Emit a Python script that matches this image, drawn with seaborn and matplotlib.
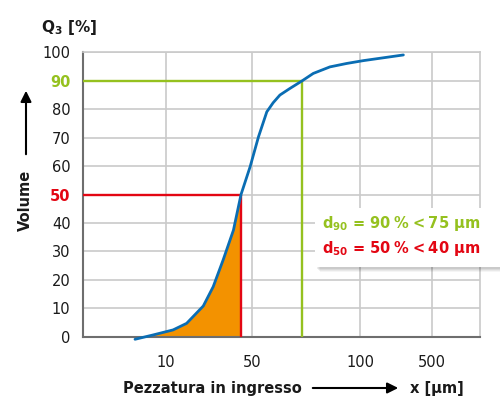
import numpy as np
import matplotlib
matplotlib.use("Agg")
import matplotlib.pyplot as plt
import seaborn as sns
from matplotlib.patches import Rectangle

# cumulative volume curve Q3
# x is the position along the (non-uniform) size axis, 0..100
grain_pos = [13.1, 17.6, 22.7, 26.1, 30.3, 32.8, 35.3, 37.9, 39.8,
             42.1, 44.2, 46.3, 47.9, 49.6, 52.1, 55.2, 58.0, 62.2, 66.4, 70.6, 80.7]
volume_pct = [-0.9, 0.6, 2.4, 4.7, 10.8, 17.6, 27.0, 37.5, 50.0,
              59.8, 70.3, 79.1, 82.3, 85.0, 87.3, 90.0, 92.6, 94.9, 96.1, 97.1, 99.1]

size_ticks = [20.9, 42.6, 69.8, 87.9]
size_labels = ["10", "50", "100", "500"]
volume_ticks = list(range(0, 101, 10))

d50_pos, d50_pct = 39.8, 50
d90_pos, d90_pct = 55.2, 90

BLUE = "#0a6db3"
ORANGE = "#f39200"
GREEN = "#95c11f"
RED = "#e30613"
GRID = "#cacaca"
TEXT = "#1a1a1a"

sns.set_theme(style="whitegrid")
plt.rcParams["font.family"] = ["DejaVu Sans"]
plt.rcParams["mathtext.fontset"] = "dejavusans"

fig = plt.figure(figsize=(5, 3.96), dpi=100)
ax = fig.add_axes([0.166, 0.1497, 0.794, 0.718])

# orange area under the curve up to d50
fill_x = np.array([x for x in grain_pos if x <= d50_pos])
fill_y = np.clip(np.array(volume_pct[:len(fill_x)]), 0, None)
ax.fill_between(fill_x, fill_y, 0, color=ORANGE, lw=0, zorder=2)

# d50 / d90 guide lines
ax.hlines(d50_pct, 0, d50_pos, color=RED, lw=1.7, zorder=3)
ax.vlines(d50_pos, 0, d50_pct, color=RED, lw=1.7, zorder=3)
ax.hlines(d90_pct, 0, d90_pos, color=GREEN, lw=1.7, zorder=3)
ax.vlines(d90_pos, 0, d90_pct, color=GREEN, lw=1.7, zorder=3)

sns.lineplot(x=grain_pos, y=volume_pct, sort=False, color=BLUE, lw=2, ax=ax, zorder=4)
ax.lines[-1].set_clip_on(False)
ax.lines[-1].set_solid_joinstyle("round")

ax.set_xlim(0, 100)
ax.set_ylim(0, 100)
ax.set_xticks(size_ticks, size_labels)
ax.set_yticks(volume_ticks)
ax.set_xlabel("")
ax.set_ylabel("")
ax.tick_params(axis="x", length=0, pad=13, labelsize=10.5, labelcolor=TEXT)
ax.tick_params(axis="y", length=0, pad=9, labelsize=10.5, labelcolor=TEXT)
for lbl in ax.get_yticklabels():
    if lbl.get_text() == "50":
        lbl.set_color(RED)
        lbl.set_fontweight("bold")
    elif lbl.get_text() == "90":
        lbl.set_color(GREEN)
        lbl.set_fontweight("bold")

ax.grid(True, color=GRID, lw=1.2)
for side in ["left", "bottom"]:
    ax.spines[side].set_color("#6e6e6e")
    ax.spines[side].set_linewidth(1.5)
for side in ["top", "right"]:
    ax.spines[side].set_color(GRID)
    ax.spines[side].set_linewidth(1.2)

# axis titles
fig.text(41 / 500, 1 - 32 / 396, r"$\mathbf{Q_3}$ [%]", fontsize=11, fontweight="bold",
         color=TEXT, va="baseline")
fig.text(25 / 500, 1 - 200 / 396, "Volume", rotation=90, fontsize=10.5, fontweight="bold",
         color=TEXT, ha="center", va="center")
ax.annotate("", xy=(26 / 500, 1 - 88 / 396), xytext=(26 / 500, 1 - 157 / 396),
            xycoords="figure fraction", annotation_clip=False,
            arrowprops=dict(arrowstyle="-|>", color="black", lw=1.5, mutation_scale=16))

fig.text(123 / 500, 1 - 393 / 396, "Pezzatura in ingresso", fontsize=10.5, fontweight="bold",
         color=TEXT, va="baseline")
ax.annotate("", xy=(401 / 500, 1 - 388 / 396), xytext=(310 / 500, 1 - 388 / 396),
            xycoords="figure fraction", annotation_clip=False,
            arrowprops=dict(arrowstyle="-|>", color="black", lw=1.5, mutation_scale=16))
fig.text(410 / 500, 1 - 393 / 396, "x [µm]", fontsize=10.5, fontweight="bold",
         color=TEXT, va="baseline")

# result box with a soft shadow
for off, alpha in [(5, 0.04), (4, 0.05), (3, 0.06), (2, 0.07)]:
    fig.add_artist(Rectangle((315 / 500 + off / 500, 1 - 267 / 396 - off / 396), 0.4, 59 / 396,
                             transform=fig.transFigure, facecolor="black", alpha=alpha,
                             lw=0, zorder=9))
fig.add_artist(Rectangle((315 / 500, 1 - 267 / 396), 0.4, 59 / 396,
                         transform=fig.transFigure, facecolor="white", lw=0, zorder=10))
fig.text(322 / 500, 1 - 228 / 396, r"$\mathbf{d_{90}}$ = 90" + "\u2009% <\u200975 µm",
         fontsize=10.5, fontweight="bold", color=GREEN, va="baseline", zorder=11)
fig.text(322 / 500, 1 - 253 / 396, r"$\mathbf{d_{50}}$ = 50" + "\u2009% <\u200940 µm",
         fontsize=10.5, fontweight="bold", color=RED, va="baseline", zorder=11)

fig.savefig("out.png", dpi=100)
